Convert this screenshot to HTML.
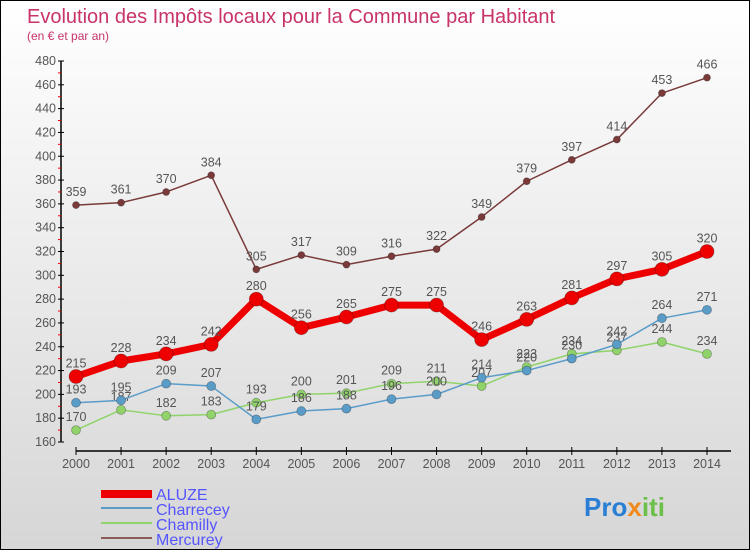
<!DOCTYPE html>
<html><head><meta charset="utf-8"><style>
body{margin:0;width:750px;height:550px;overflow:hidden;font-family:"Liberation Sans",sans-serif}
#wrap{position:absolute;left:0;top:0;width:748px;height:548px;border:1px solid #000;background:linear-gradient(#fff,#d6d6d6)}
</style></head><body>
<div id="wrap">
<svg id="svg" width="748" height="548" xmlns="http://www.w3.org/2000/svg">
<text x="26" y="22" font-size="20" fill="#c8336a">Evolution des Impôts locaux pour la Commune par Habitant</text>
<text x="26" y="39" font-size="12" fill="#c8336a">(en € et par an)</text>
<g id="axes"></g><g id="series"></g>
<g>
<rect x="100" y="489" width="51" height="8" fill="#e00"/>
<text x="155" y="499" font-size="16" fill="#5555ff">ALUZE</text>
<line x1="100" y1="507" x2="151" y2="507" stroke="#5a9cc8" stroke-width="2"/>
<text x="155" y="514" font-size="16" fill="#5555ff">Charrecey</text>
<line x1="100" y1="522" x2="151" y2="522" stroke="#8fd36a" stroke-width="2"/>
<text x="155" y="529" font-size="16" fill="#5555ff">Chamilly</text>
<line x1="100" y1="537" x2="151" y2="537" stroke="#8b5a5a" stroke-width="2"/>
<text x="155" y="544" font-size="16" fill="#5555ff">Mercurey</text>
</g>
<text x="583" y="515" font-size="26" font-weight="bold"><tspan fill="#2a7fd4">Pro</tspan><tspan fill="#f08a1c">x</tspan><tspan fill="#6cc04a">iti</tspan></text>
</svg></div>
<script>
const years=[2000,2001,2002,2003,2004,2005,2006,2007,2008,2009,2010,2011,2012,2013,2014];
const yTicks=[160,180,200,220,240,260,280,300,320,340,360,380,400,420,440,460,480];
const aluze=[215,228,234,242,280,256,265,275,275,246,263,281,297,305,320];
const charrecey=[193,195,209,207,179,186,188,196,200,214,220,230,242,264,271];
const chamilly=[170,187,182,183,193,200,201,209,211,207,223,234,237,244,234];
const mercurey=[359,361,370,384,305,317,309,316,322,349,379,397,414,453,466];
const NS="http://www.w3.org/2000/svg";
const xS=i=>75+i*(706-75)/14;
const yS=v=>441-(v-160)*(381/320);
function mk(t,a,p){const e=document.createElementNS(NS,t);for(const k in a)e.setAttribute(k,a[k]);p.appendChild(e);return e;}
const ax=document.getElementById('axes');
mk('line',{x1:60,y1:60,x2:60,y2:441,stroke:'#000','stroke-width':1.5},ax);
mk('line',{x1:75,y1:450,x2:730,y2:450,stroke:'#000','stroke-width':1.5},ax);
yTicks.forEach((v,i)=>{
 const y=yS(v);
 const tk=mk('line',{x1:57,y1:y,x2:63,y2:y,stroke:'#000'},ax);
 
 
 if(i<yTicks.length-1){const m=mk('line',{x1:57,y1:yS(v+10),x2:60,y2:yS(v+10),stroke:'#e00'},ax);
 
 }
 const t=mk('text',{x:55,y:y+4,'font-size':12.5,fill:'#555','text-anchor':'end'},ax);t.textContent=v;
 
 
});
years.forEach((yr,i)=>{
 const x=xS(i);
 const tk=mk('line',{x1:x,y1:446,x2:x,y2:454,stroke:'#000'},ax);
 
 
 const t=mk('text',{x:x,y:467,'font-size':12.5,fill:'#555','text-anchor':'middle'},ax);t.textContent=yr;
 
 
});
const sg=document.getElementById('series');
function draw(name,data,color,w,r){
 const g=mk('g',{},sg);
 
 
 const pl=mk('polyline',{points:data.map((v,i)=>xS(i)+','+yS(v)).join(' '),fill:'none',stroke:color,'stroke-width':w,'stroke-linejoin':'round'},g);
 
 
 data.forEach((v,i)=>{
  const c=mk('circle',{cx:xS(i),cy:yS(v),r:r,fill:color,stroke:'rgba(0,0,0,0.3)','stroke-width':0.8},g);
  
  
  const t=mk('text',{x:xS(i),y:yS(v)-9,'font-size':12.5,fill:'#555','text-anchor':'middle'},g);t.textContent=v;
  
  
 });
}
draw('mercurey',mercurey,'#7a3a3a',1.5,3.5);
draw('chamilly',chamilly,'#8fd36a',1.5,4.5);
draw('charrecey',charrecey,'#5a9cc8',1.5,4.5);
draw('aluze',aluze,'#ee0000',7,7);
</script>
</body></html>
